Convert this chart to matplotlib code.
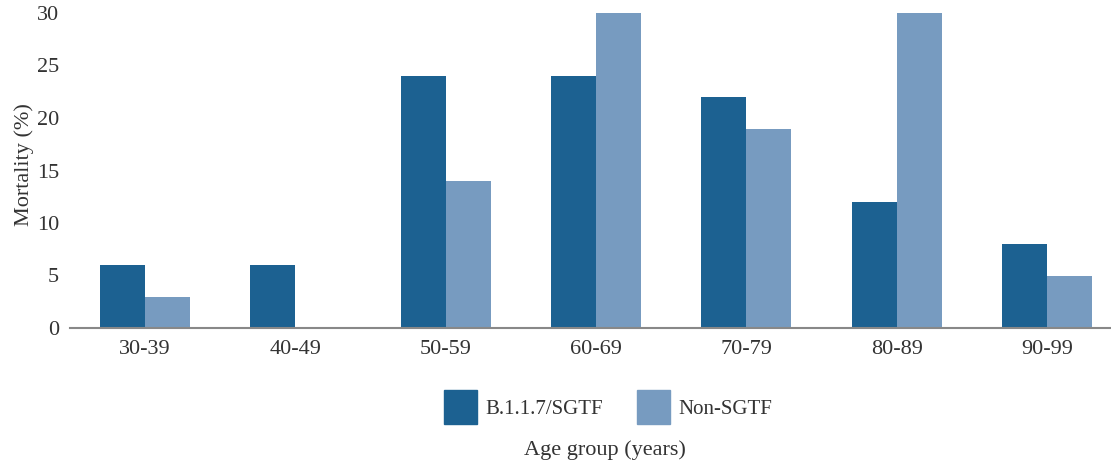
import matplotlib
matplotlib.use("Agg")
import matplotlib.pyplot as plt
import numpy as np
from matplotlib.patches import Patch

categories = ["30-39", "40-49", "50-59", "60-69", "70-79", "80-89", "90-99"]
sgtf = [6, 6, 24, 24, 22, 12, 8]
non_sgtf = [3, 0, 14, 30, 19, 30, 5]
series_names = ["B.1.1.7/SGTF", "Non-SGTF"]
yticks = [0, 5, 10, 15, 20, 25, 30]

plt.rcParams['font.family'] = ['Liberation Serif', 'DejaVu Serif']
text_color = "#333333"
dark = "#1c6191"
light = "#779bc0"

fig = plt.figure(figsize=(11.11, 4.63), dpi=100)
ax = fig.add_axes([70/1111, (463-328)/463, 1040/1111, 315/463])

x = np.arange(len(categories))
w = 0.3
ax.bar(x - w/2, sgtf, width=w, color=dark, label=series_names[0])
ax.bar(x + w/2, non_sgtf, width=w, color=light, label=series_names[1])

ax.set_xlim(-0.5, 6.42)
ax.set_ylim(0, 30)
ax.set_yticks(yticks)
ax.set_yticklabels([str(t) for t in yticks], fontsize=16, color=text_color)
ax.set_xticks(x)
ax.set_xticklabels(categories, fontsize=16, color=text_color)
ax.tick_params(axis='both', length=0)
ax.tick_params(axis='y', pad=8)
ax.tick_params(axis='x', pad=9)
for s in ["top", "right", "left"]:
    ax.spines[s].set_visible(False)
ax.spines["bottom"].set_color("#888888")
ax.spines["bottom"].set_linewidth(1.5)

ax.set_ylabel("Mortality (%)", fontsize=16, color=text_color)
ax.yaxis.set_label_coords(34/1111, 1 - 165/463, transform=fig.transFigure)

handles = [Patch(color=dark, label=series_names[0]), Patch(color=light, label=series_names[1])]
fig.legend(handles=handles, loc="center", bbox_to_anchor=(608/1111, 1 - 407/463), ncol=2,
           frameon=False, fontsize=15, handlelength=1.6, handleheight=2.2,
           handletextpad=0.4, columnspacing=1.6, labelcolor=text_color)

fig.text(605/1111, 1 - 450/463, "Age group (years)", ha="center", va="center",
         fontsize=16, color=text_color)

fig.savefig("out.png", dpi=100)
